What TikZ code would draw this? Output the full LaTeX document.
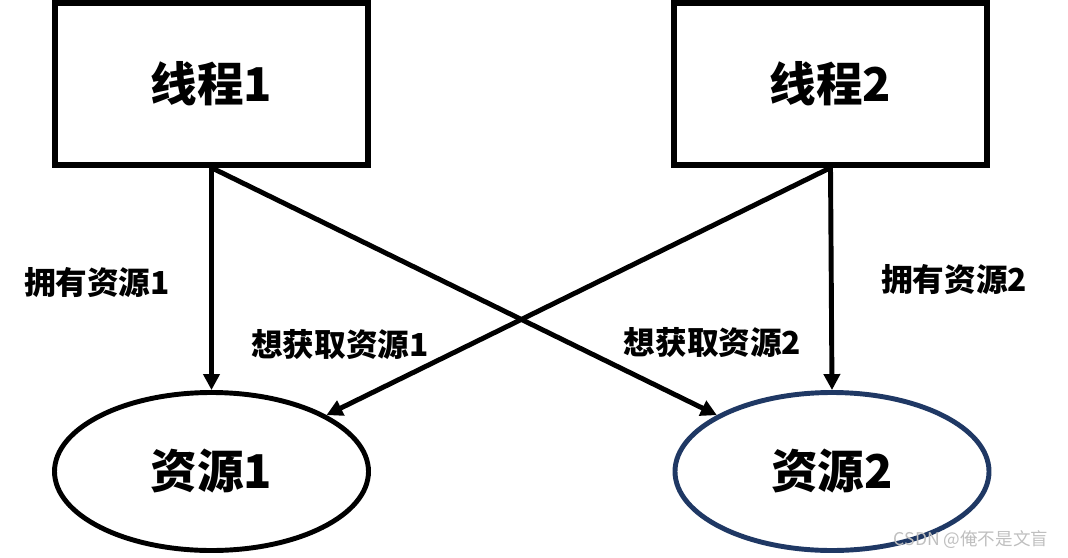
\documentclass[tikz,border=0pt]{standalone}
\usepackage{fontspec}
\setmainfont{Noto Sans CJK SC}[BoldFont={Noto Sans CJK SC Black}]
\usepackage{xcolor}
\usepackage{tikz}
\usetikzlibrary{positioning,arrows.meta,shapes.geometric}
\definecolor{navy}{HTML}{1F3864}

\begin{document}
\begin{tikzpicture}[
    thread/.style={rectangle,draw,line width=3.1pt,minimum width=6.26cm,minimum height=3.24cm,
                   inner sep=0pt,font=\fontsize{26.5}{30}\selectfont\bfseries},
    res/.style={ellipse,draw,line width=2.8pt,minimum width=6.28cm,minimum height=3.16cm,
                inner sep=0pt,font=\fontsize{26.5}{30}\selectfont\bfseries},
    lbl/.style={font=\fontsize{18}{22}\selectfont\bfseries},
    arrow/.style={-{Triangle[length=3.2mm,width=3.2mm]},line width=2.8pt}
]
\useasboundingbox (0,0) rectangle (21.36,-11.14);
\node[thread] (t1) at (4.23,-1.68)  {线程1};
\node[thread] (t2) at (16.61,-1.68) {线程2};
\node[res]            (r1) at (4.23,-9.43)  {资源1};
\node[res,draw=navy]  (r2) at (16.64,-9.43) {资源2};

\node[lbl] (own1)  at (1.94,-5.66)  {拥有资源1};
\node[lbl] (want1) at (6.8,-6.9)    {想获取资源1};
\node[lbl] (want2) at (14.25,-6.86) {想获取资源2};
\node[lbl] (own2)  at (19.08,-5.6)  {拥有资源2};

\draw[arrow] (t1.south) -- (r1.north);
\draw[arrow] (t1.south) -- (r2);
\draw[arrow] (t2.south) -- (r1);
\draw[arrow] (t2.south) -- (r2.north);

\node[font=\fontsize{10}{12}\selectfont,text=black!25] (mark) at (19.42,-10.8) {CSDN @俺不是文盲};
\end{tikzpicture}
\end{document}
